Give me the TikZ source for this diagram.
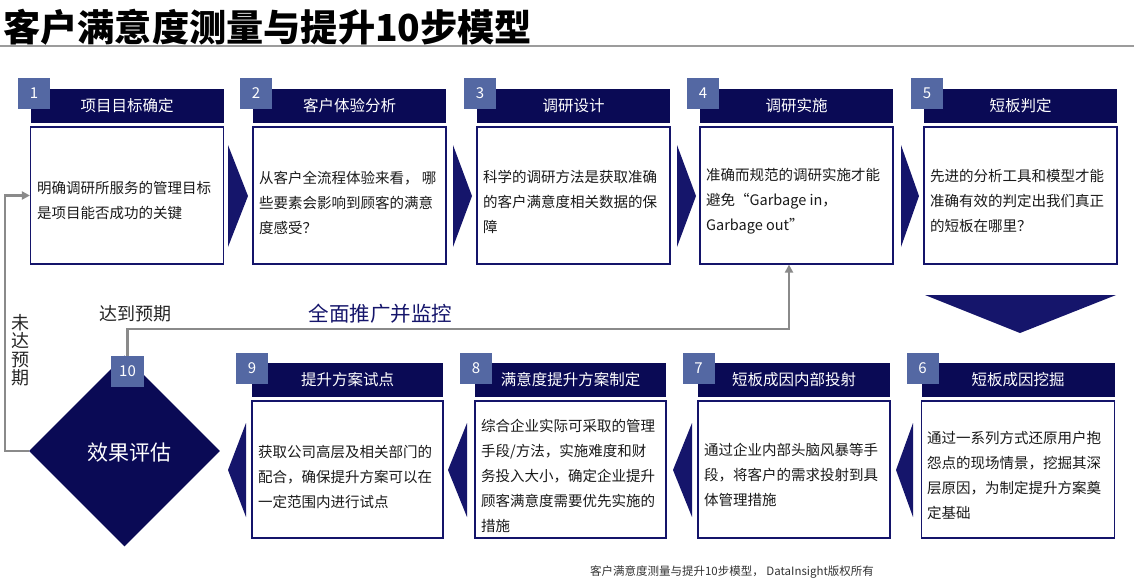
\documentclass[tikz,border=0pt]{standalone}
\usepackage{fontspec}
\setmainfont{Noto Sans CJK SC}
\usetikzlibrary{arrows.meta,shapes.geometric}
\definecolor{navy}{HTML}{0A0A55}
\definecolor{chev}{HTML}{15156B}
\definecolor{numblue}{HTML}{5468A3}
\definecolor{boxborder}{HTML}{14146A}
\definecolor{fbgray}{HTML}{8A8A8A}
\definecolor{bodytext}{HTML}{1A1A1A}
\begin{document}
\begin{tikzpicture}[x=1pt,y=-1pt,
  numsq/.style={fill=numblue,text=white,font=\fontsize{15}{15}\selectfont,inner sep=0,minimum width=32pt,minimum height=31pt},
  hdr/.style={fill=navy,text=white,font=\fontsize{15.5}{16}\selectfont,inner sep=0,minimum width=193pt,minimum height=34pt},
  bodybox/.style={draw=boxborder,line width=1.2pt,fill=white,inner sep=0,minimum width=193pt,minimum height=137pt},
  body/.style={align=left,anchor=west,inner sep=0,text=bodytext,font=\fontsize{14.5}{25}\selectfont},
  chevron/.style={fill=chev},
  fbline/.style={draw=fbgray,line width=2.5pt},
  fbarrow/.style={fbline,-{Triangle[length=8pt,width=8pt]}},
  lbl/.style={inner sep=0,font=\fontsize{18}{18.5}\selectfont,text=black!85}
]
\useasboundingbox (0,0) rectangle (1134,582);
\fill[white] (0,0) rectangle (1134,582);

% title
\node[anchor=west,inner sep=0,font=\fontsize{37.2}{38}\selectfont\bfseries] (title) at (3,27) {客户满意度测量与提升10步模型};
\draw[draw=fbgray!85,line width=2pt] (0,46) coordinate (ulA) -- (1134,46) coordinate (ulB);

% ---------- top row ----------
\node[hdr] (h1) at (127,106) {项目目标确定};
\node[hdr] (h2) at (349.5,106) {客户体验分析};
\node[hdr] (h3) at (573.5,106) {调研设计};
\node[hdr] (h4) at (796.5,106) {调研实施};
\node[hdr] (h5) at (1020.5,106) {短板判定};

\node[numsq] (s1) at (34,93.5) {1};
\node[numsq] (s2) at (256,93.5) {2};
\node[numsq] (s3) at (480,93.5) {3};
\node[numsq] (s4) at (703,93.5) {4};
\node[numsq] (s5) at (927,93.5) {5};

\node[bodybox] (b1) at (127,195.5) {};
\node[bodybox] (b2) at (349.5,195.5) {};
\node[bodybox] (b3) at (573.5,195.5) {};
\node[bodybox] (b4) at (796.5,195.5) {};
\node[bodybox] (b5) at (1020.5,195.5) {};

\node[body] (t1) at (37,200.5) {明确调研所服务的管理目标\\是项目能否成功的关键};
\node[body] (t2) at (259,203) {从客户全流程体验来看， 哪\\些要素会影响到顾客的满意\\度感受？};
\node[body] (t3) at (483,202) {科学的调研方法是获取准确\\的客户满意度相关数据的保\\障};
\node[body] (t4) at (706,201) {准确而规范的调研实施才能\\避免“Garbage in，\\ Garbage out”};
\node[body] (t5) at (930,201) {先进的分析工具和模型才能\\准确有效的判定出我们真正\\的短板在哪里？};

% right chevrons
\fill[chevron] (228,145) -- (248,196) -- (228,247) -- cycle;
\fill[chevron] (453,145) -- (472,196) -- (453,247) -- cycle;
\fill[chevron] (677,145) -- (696,196) -- (677,247) -- cycle;
\fill[chevron] (901,145) -- (919,196) -- (901,247) -- cycle;

% down arrow
\fill[chevron] (925,295) -- (1116,295) -- (1020,333) -- cycle;

% ---------- bottom row ----------
\node[hdr,minimum width=193pt] (h6) at (1018,380) {短板成因挖掘};
\node[hdr,minimum width=192pt] (h7) at (794,380) {短板成因内部投射};
\node[hdr,minimum width=191pt] (h8) at (570.5,380) {满意度提升方案制定};
\node[hdr,minimum width=191pt] (h9) at (347.5,380) {提升方案试点};

\node[numsq] (s6) at (922.5,368.5) {6};
\node[numsq] (s7) at (698.5,368.5) {7};
\node[numsq] (s8) at (476,368.5) {8};
\node[numsq] (s9) at (252,368.5) {9};

\node[bodybox,minimum width=193pt] (b6) at (1018,469.5) {};
\node[bodybox,minimum width=192pt] (b7) at (794,469.5) {};
\node[bodybox,minimum width=191pt] (b8) at (570.5,469.5) {};
\node[bodybox,minimum width=191pt] (b9) at (347.5,469.5) {};

\node[body] (t6) at (927,475.5) {通过一系列方式还原用户抱\\怨点的现场情景，挖掘其深\\层原因，为制定提升方案奠\\定基础};
\node[body] (t7) at (704,475) {通过企业内部头脑风暴等手\\段，将客户的需求投射到具\\体管理措施};
\node[body] (t8) at (481,475.5) {综合企业实际可采取的管理\\手段/方法，实施难度和财\\务投入大小，确定企业提升\\顾客满意度需要优先实施的\\措施};
\node[body] (t9) at (258,477) {获取公司高层及相关部门的\\配合，确保提升方案可以在\\一定范围内进行试点};

% left chevrons
\fill[chevron] (913,423) -- (896,470) -- (913,517) -- cycle;
\fill[chevron] (692,423) -- (673,470) -- (692,517) -- cycle;
\fill[chevron] (467,423) -- (448,470) -- (467,517) -- cycle;
\fill[chevron] (246,423) -- (228,470) -- (246,517) -- cycle;

% ---------- diamond ----------
\node[diamond,fill=navy,inner sep=0,minimum width=191pt,minimum height=191pt,aspect=1] (dia) at (124.5,451) {};
\node[text=white,inner sep=0,font=\fontsize{21}{21}\selectfont] (diatext) at (129,453) {效果评估};
\node[numsq,minimum width=33pt] (s10) at (127.5,371.5) {10};

% ---------- feedback connectors ----------
\coordinate (fbturn) at (789,329);
\draw[fbarrow] (s10.north) |- (fbturn) -- (fbturn |- b4.south);
\coordinate (lturn) at (5,451);
\draw[fbarrow] (dia.west) -- (lturn) |- (b1.west);

% labels
\node[lbl] (reach) at (135.5,314) {达到预期};
\node[inner sep=0,font=\fontsize{20.5}{21}\selectfont,text=chev] (promote) at (380.5,314) {全面推广并监控};
\node[lbl,align=center] (notreach) at (20.5,350) {未\\达\\预\\期};

% footer
\node[inner sep=0,font=\fontsize{11.5}{12}\selectfont,text=black!80] (footer) at (732,572) {客户满意度测量与提升10步模型， DataInsight版权所有};
\end{tikzpicture}
\end{document}
